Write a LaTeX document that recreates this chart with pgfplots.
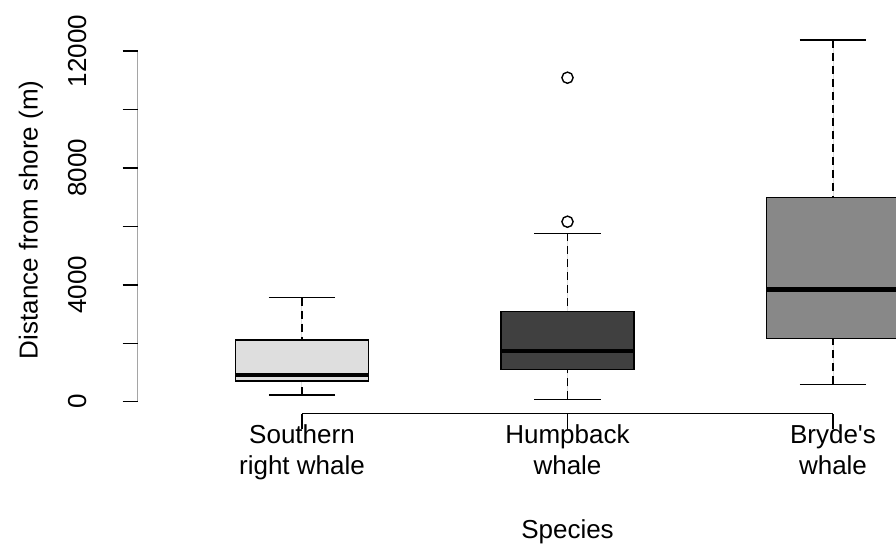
\documentclass[border=0pt]{standalone}
\usepackage{pgfplots}
\pgfplotsset{compat=1.18}
\usepgfplotslibrary{statistics}
\usepackage{fontspec}
\setmainfont{Liberation Sans}[Ligatures=TeXOff]
\definecolor{cSR}{HTML}{DEDEDE}
\definecolor{cHB}{HTML}{404040}
\definecolor{cBW}{HTML}{888888}
\pgfplotsset{
  boxplot/draw/lower whisker/.code={%
    \draw[black, line width=0.75pt, dash pattern=on 4pt off 2.5pt]
      (boxplot box cs:\pgfplotsboxplotvalue{lower whisker},0.5) --
      (boxplot box cs:\pgfplotsboxplotvalue{lower quartile},0.5);
    \draw[black, line width=0.75pt]
      (boxplot whisker cs:\pgfplotsboxplotvalue{lower whisker},0) --
      (boxplot whisker cs:\pgfplotsboxplotvalue{lower whisker},1);
  },
  boxplot/draw/upper whisker/.code={%
    \draw[black, line width=0.75pt, dash pattern=on 4pt off 2.5pt]
      (boxplot box cs:\pgfplotsboxplotvalue{upper whisker},0.5) --
      (boxplot box cs:\pgfplotsboxplotvalue{upper quartile},0.5);
    \draw[black, line width=0.75pt]
      (boxplot whisker cs:\pgfplotsboxplotvalue{upper whisker},0) --
      (boxplot whisker cs:\pgfplotsboxplotvalue{upper whisker},1);
  },
}
\begin{document}
\begin{tikzpicture}
\useasboundingbox (0,0) rectangle (448pt,272pt);
\begin{axis}[
  at={(68.85pt,65pt)}, anchor=south west,
  scale only axis, width=379.15pt, height=194.2pt,
  xmin=0.3812, xmax=3.2373, ymin=-420, ymax=12869,
  axis x line*=bottom, axis y line*=left,
  axis line style={draw=none},
  tick align=outside, major tick length=7.5pt,
  tick style={black, line width=0.75pt},
  scaled y ticks=false,
  xtick={1,2,3},
  xticklabels={{Southern\\right whale},{Humpback\\whale},{Bryde's\\whale}},
  xticklabel style={align=center, anchor=north, inner sep=0pt, yshift=2.5pt,
    font=\fontsize{13pt}{15.5pt}\selectfont, text=black},
  ytick={0,2000,4000,6000,8000,10000,12000},
  yticklabels={0,,4000,,8000,,12000},
  yticklabel style={rotate=90, anchor=south, inner sep=0pt,
    font=\fontsize{13pt}{15.5pt}\selectfont, text=black},
  yticklabel shift=18pt,
  /pgf/number format/assume math mode=true,
  xlabel={Species},
  ylabel={Distance from shore (m)},
  every axis x label/.style={at={(axis description cs:0.5668,0)}, anchor=base, yshift=-62.5pt,
    font=\fontsize{13pt}{15.5pt}\selectfont, text=black},
  every axis y label/.style={at={(axis description cs:-0.1407,0.5)}, rotate=90, anchor=center,
    font=\fontsize{13pt}{15.5pt}\selectfont, text=black},
  boxplot/draw direction=y,
  boxplot/box extend=0.5,
  boxplot/whisker extend=0.25,
  boxplot/every median/.style={draw=black, line width=2.2pt},
  boxplot/every box/.style={draw=black, line width=0.75pt},
  clip=true,
]
\addplot[boxplot prepared={draw position=1, lower whisker=229, lower quartile=708,
  median=924, upper quartile=2111, upper whisker=3559}, fill=cSR, draw=black]
  coordinates {};
\addplot[boxplot prepared={draw position=2, lower whisker=82, lower quartile=1109,
  median=1745, upper quartile=3080, upper whisker=5762}, fill=cHB, draw=black]
  coordinates {};
\addplot[boxplot prepared={draw position=3, lower whisker=595, lower quartile=2169,
  median=3846, upper quartile=6980, upper whisker=12377}, fill=cBW, draw=black]
  coordinates {};
\addplot[only marks, mark=o, mark size=2.8pt, black, line width=0.7pt]
  coordinates {(2,6159) (2,11086)};
\draw[black, line width=0.75pt] (axis cs:1,-420) -- (axis cs:3,-420);
\draw[black, line width=0.75pt] (axis cs:0.3812,0) -- (axis cs:0.3812,12000);
\end{axis}
\end{tikzpicture}
\end{document}
